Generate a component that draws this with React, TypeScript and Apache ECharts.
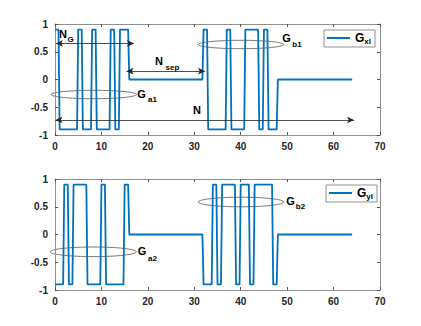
import React, { useEffect, useRef } from "react";
import * as echarts from "echarts";

// chip values of the four Golay-type sequences
const AMP = 0.9;
const GA1 = [1, -1, -1, -1, -1, 1, -1, -1, 1, -1, -1, -1, 1, -1, 1, 1];
const GB1 = [1, -1, -1, -1, -1, 1, -1, -1, -1, 1, 1, 1, -1, 1, -1, -1];
const GA2 = [-1, -1, 1, -1, 1, 1, 1, -1, -1, -1, 1, -1, -1, -1, -1, 1];
const GB2 = [-1, -1, 1, -1, 1, 1, 1, -1, 1, 1, -1, 1, 1, 1, 1, -1];
const GAP = [0, 0, 0, 0, 0, 0, 0, 0, 0, 0, 0, 0, 0, 0, 0, 0];
const SERIES_NAMES = ["Gxl", "Gyl"];
const X_TICKS = [0, 10, 20, 30, 40, 50, 60, 70];
const Y_TICKS = [-1, -0.5, 0, 0.5, 1];
const RAMP = 0.25;

const FONT = "Liberation Sans, Arial, Helvetica, sans-serif";

function toPoints(chips: number[]): number[][] {
  const pts: number[][] = [];
  for (let k = 0; k < chips.length; k++) {
    const v = AMP * chips[k];
    pts.push([k, v]);
    pts.push([k === chips.length - 1 ? k + 1 : k + 1 - RAMP, v]);
  }
  return pts;
}

const seqX = [...GA1, ...GAP, ...GB1, ...GAP];
const seqY = [...GA2, ...GAP, ...GB2, ...GAP];

export default function App() {
  const ref = useRef<HTMLDivElement>(null);
  useEffect(() => {
    document.body.style.margin = "0";
    const chart = echarts.init(ref.current!, null, { renderer: "svg" });
    const xMin = X_TICKS[0];
    const xMax = X_TICKS[X_TICKS.length - 1];
    const xInt = X_TICKS[1] - X_TICKS[0];
    const yMin = Y_TICKS[0];
    const yMax = Y_TICKS[Y_TICKS.length - 1];
    const yInt = Y_TICKS[1] - Y_TICKS[0];
    const grids = [
      { left: 55, top: 24, width: 325, height: 111 },
      { left: 55, top: 179, width: 325, height: 111 },
    ];
    const axisLine = { show: true, onZero: false, lineStyle: { color: "#8f8f8f", width: 1 } };
    const axisTick = { show: true, inside: true, length: 3, lineStyle: { color: "#555", width: 1 } };
    const label = { fontSize: 10, fontWeight: "bold" as const, color: "#262626", fontFamily: FONT };
    const xAxes: any[] = [];
    const yAxes: any[] = [];
    grids.forEach((_, gi) => {
      xAxes.push({
        type: "value", gridIndex: gi, position: "bottom", min: xMin, max: xMax, interval: xInt,
        axisLine, axisTick, splitLine: { show: false }, axisLabel: { ...label, margin: 6 },
      });
      xAxes.push({
        type: "value", gridIndex: gi, position: "top", min: xMin, max: xMax, interval: xInt,
        axisLine, axisTick, splitLine: { show: false }, axisLabel: { show: false },
      });
      yAxes.push({
        type: "value", gridIndex: gi, position: "left", min: yMin, max: yMax, interval: yInt,
        axisLine, axisTick, splitLine: { show: false }, axisLabel: { ...label, margin: 7 },
      });
      yAxes.push({
        type: "value", gridIndex: gi, position: "right", min: yMin, max: yMax, interval: yInt,
        axisLine, axisTick, splitLine: { show: false }, axisLabel: { show: false },
      });
    });

    const legendRich = {
      g: { fontSize: 12, fontWeight: "bold", color: "#000", fontFamily: FONT, lineHeight: 14 },
      s: { fontSize: 8, fontWeight: "bold", color: "#000", fontFamily: FONT, verticalAlign: "bottom", lineHeight: 14, padding: [5, 0, 0, 0] },
    };
    const legendBase = {
      orient: "horizontal",
      borderColor: "#8f8f8f",
      borderWidth: 1,
      borderRadius: 0,
      padding: [2, 4, 2, 3],
      icon: "rect",
      itemWidth: 23,
      itemHeight: 2,
      itemGap: 0,
      formatter: (n: string) => `{g|${n.charAt(0)}}{s|${n.slice(1)}}`,
      textStyle: { rich: legendRich },
    };

    const arrowLine = { color: "#222", width: 0.8, type: "solid" };
    const lineColor = "#0072BD";

    const T = (text: string, x: number, y: number, size: number) => ({
      type: "text",
      x, y,
      style: {
        text, fontSize: size, fontWeight: "bold", fontFamily: FONT, fill: "#000",
        textAlign: "center", textVerticalAlign: "middle",
      },
      silent: true,
    });
    const E = (cx: number, cy: number, rx: number, ry: number) => ({
      type: "ellipse",
      shape: { cx, cy, rx, ry },
      style: { fill: "none", stroke: "#555", lineWidth: 0.8 },
      silent: true,
    });

    chart.setOption({
      animation: false,
      backgroundColor: "#fff",
      grid: grids,
      xAxis: xAxes,
      yAxis: yAxes,
      legend: [
        { ...legendBase, data: [SERIES_NAMES[0]], left: 324, top: 30 },
        { ...legendBase, data: [SERIES_NAMES[1]], left: 326, top: 185 },
      ],
      series: [
        {
          name: SERIES_NAMES[0], type: "line", xAxisIndex: 0, yAxisIndex: 0,
          data: toPoints(seqX), symbol: "none", showSymbol: false,
          lineStyle: { color: lineColor, width: 1.8 }, itemStyle: { color: lineColor },
          markLine: {
            silent: true,
            symbol: ["arrow", "arrow"],
            symbolSize: [5, 7],
            label: { show: false },
            lineStyle: arrowLine,
            itemStyle: { color: "#000" },
            data: [
              [{ coord: [0.2, 0.65] }, { coord: [17, 0.65] }],
              [{ coord: [15.4, 0.15] }, { coord: [32.3, 0.15] }],
              [{ coord: [0.1, -0.73] }, { coord: [64.4, -0.73] }],
            ],
          },
        },
        {
          name: SERIES_NAMES[1], type: "line", xAxisIndex: 2, yAxisIndex: 2,
          data: toPoints(seqY), symbol: "none", showSymbol: false,
          lineStyle: { color: lineColor, width: 1.8 }, itemStyle: { color: lineColor },
        },
      ],
      graphic: [
        E(93.8, 94.5, 42.8, 4.2),
        E(241, 44.5, 42.7, 4.2),
        E(93.3, 251.8, 43, 4.8),
        E(241, 202, 42.7, 4.8),
        T("N", 63, 33.5, 11), T("G", 70.5, 39.5, 8),
        T("N", 159, 61, 11), T("sep", 172.5, 67, 8),
        T("N", 197, 110, 11),
        T("G", 141.5, 93.5, 11), T("a1", 152.5, 99.5, 8),
        T("G", 286.5, 37.5, 11), T("b1", 297, 44.5, 8),
        T("G", 142, 251, 11), T("a2", 152.5, 258, 8),
        T("G", 290.5, 201, 11), T("b2", 300.5, 206.5, 8),
      ],
    });
    return () => chart.dispose();
  }, []);
  return <div ref={ref} style={{ position: "fixed", left: 0, top: 0, width: 421, height: 326 }} />;
}
